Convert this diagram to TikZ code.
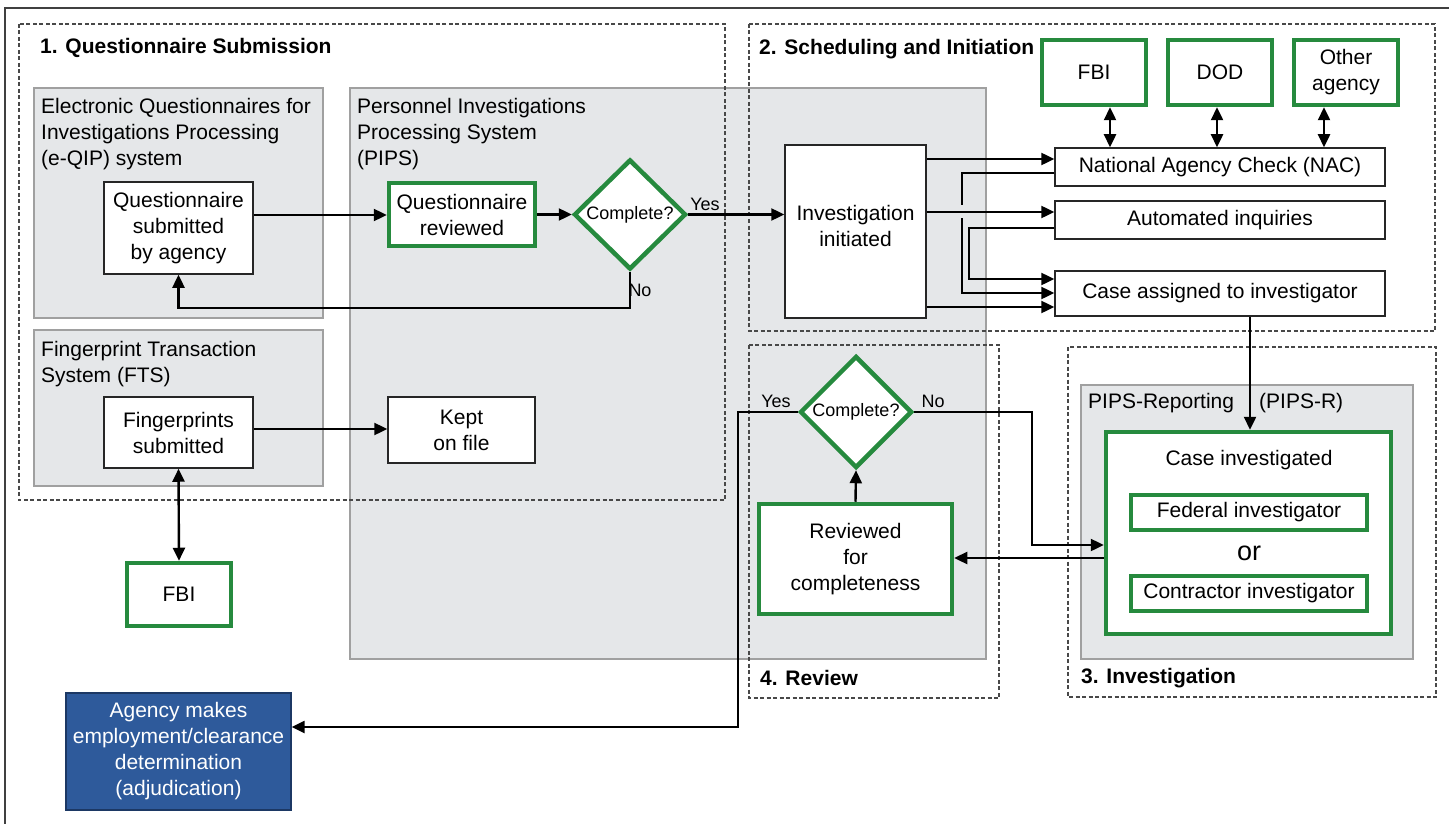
\documentclass[tikz,border=0pt]{standalone}
\usepackage{fontspec}
\setmainfont{Liberation Sans}
\usetikzlibrary{arrows.meta,shapes.geometric}
\definecolor{grn}{RGB}{38,138,62}
\definecolor{gfill}{RGB}{229,231,233}
\definecolor{gline}{RGB}{160,160,160}
\definecolor{dline}{RGB}{72,72,72}
\definecolor{bfill}{RGB}{46,90,155}
\definecolor{bline}{RGB}{28,56,100}
\newcommand\myfs{\fontsize{21}{26}\selectfont}
\newcommand\mysm{\fontsize{18}{22}\selectfont}
\begin{document}
\begin{tikzpicture}[x=1pt,y=-1pt,
  every node/.style={font=\myfs, inner sep=0pt, align=center},
  plainbox/.style={draw=black!85, line width=1.5pt, fill=white},
  grnbox/.style={draw=grn, line width=4.5pt, fill=white},
  graybox/.style={draw=gline, line width=1.3pt, fill=gfill},
  section/.style={draw=dline, line width=2.2pt, dash pattern=on 4pt off 2.5pt},
  decision/.style={diamond, aspect=1, draw=grn, line width=4.5pt, fill=white, font=\mysm},
  conn/.style={line width=2.4pt},
  arr/.style={conn, -{Triangle[length=13pt,width=12pt]}},
  darr/.style={conn, {Triangle[length=13pt,width=12pt]}-{Triangle[length=13pt,width=12pt]}},
  title/.style={font=\myfs\bfseries, anchor=west},
  lbl/.style={align=left, anchor=north west}
]
\useasboundingbox (0,0) rectangle (1449,824);
% frame
\draw[line width=2pt, black!75] (5,824) -- (5,8) -- (1449,8);

% gray system boxes
\draw[graybox] (34,88) rectangle (323,318);
\draw[graybox] (34,330) rectangle (323,486);
\draw[graybox] (350,88) rectangle (986,659);
\draw[graybox] (1081,385) rectangle (1413,659);

% dashed sections
\draw[section] (19,24) rectangle (725,500);
\draw[section] (749,24) rectangle (1435,331);
\draw[section] (749,345) rectangle (999,698);
\draw[section] (1068,347) rectangle (1436,697);

% titles
\node[title] (t1) at (40,48) {1. Questionnaire Submission};
\node[title] (t2) at (759,49) {2. Scheduling and Initiation};
\node[title] (t4) at (760,678) {4. Review};
\node[title] (t3) at (1081,678) {3. Investigation};

% system labels
\node[lbl] (eqip) at (41,98) {Electronic Questionnaires for\\Investigations Processing\\(e-QIP) system};
\node[lbl] (pips) at (357,98) {Personnel Investigations\\Processing System\\(PIPS)};
\node[lbl] (fts) at (41,341) {Fingerprint Transaction\\System (FTS)};
\node[anchor=west] (pipsr1) at (1088,403) {PIPS-Reporting};
\node[anchor=west] (pipsr2) at (1259,403) {(PIPS-R)};

% section 1 nodes
\node[plainbox, minimum width=149, minimum height=92] (qsub) at (178.5,228) {Questionnaire\\submitted\\by agency};
\node[grnbox, minimum width=146, minimum height=63] (qrev) at (462,214.5) {Questionnaire\\reviewed};
\node[decision, minimum width=112, minimum height=110] (dec1) at (630,214.5) {Complete?};
\node[font=\mysm] (yes1) at (705,204) {Yes};
\node[font=\mysm] (no1) at (640,290) {No};
\node[plainbox, minimum width=149, minimum height=71] (fp) at (178.5,432.5) {Fingerprints\\submitted};
\node[plainbox, minimum width=147, minimum height=66] (kept) at (461.5,430) {Kept\\on file};
\node[grnbox, minimum width=104, minimum height=63] (fbi1) at (179,594.5) {FBI};
\node[draw=bline, line width=1.4pt, fill=bfill, text=white, minimum width=225, minimum height=117] (agency) at (178.5,751.5) {Agency makes\\employment/clearance\\determination\\(adjudication)};

% section 2 nodes
\node[plainbox, minimum width=141, minimum height=173] (inv) at (855.5,231.5) {};
\node (invlbl) at (855.5,225.5) {Investigation\\initiated};
\node[grnbox, minimum width=104, minimum height=65] (fbi2) at (1094,72.5) {FBI};
\node[grnbox, minimum width=104, minimum height=65] (dod) at (1220,72.5) {DOD};
\node[grnbox, minimum width=104, minimum height=65] (other) at (1346,72.5) {Other\\agency};
\node[plainbox, minimum width=330, minimum height=38] (nac) at (1220,167) {National Agency Check (NAC)};
\node[plainbox, minimum width=330, minimum height=38] (auto) at (1220,220) {Automated inquiries};
\node[plainbox, minimum width=330, minimum height=45] (case) at (1220,293.5) {Case assigned to investigator};

% section 3 nodes
\node[grnbox, minimum width=285, minimum height=202] (caseinv) at (1248.5,533) {};
\node (cilbl) at (1249,460) {Case investigated};
\node[grnbox, minimum width=236, minimum height=35] (fed) at (1249,512.5) {Federal investigator};
\node[font=\fontsize{27}{30}\selectfont] (or) at (1249,553) {or};
\node[grnbox, minimum width=236, minimum height=35] (con) at (1249,593.5) {Contractor investigator};

% section 4 nodes
\node[decision, minimum width=112, minimum height=112] (dec2) at (856,412) {Complete?};
\node[font=\mysm] (yes2) at (776,401) {Yes};
\node[font=\mysm] (no2) at (933,401) {No};
\node[grnbox, minimum width=193, minimum height=110] (rev) at (855.5,559) {Reviewed\\for\\completeness};

% connectors section 1
\draw[arr] (qsub.east |- 0,215) -- (qrev.west |- 0,215);
\draw[arr] (qrev.east) -- (dec1.west);
\draw[arr] (dec1.east) -- (inv.west |- dec1.east);
\draw[arr] (dec1.south) -- (dec1.south |- 0,308) -| (qsub.south);
\draw[arr] (fp.east |- 0,429) -- (kept.west |- 0,429);
\draw[darr] (fp.south) -- (fbi1.north);

% connectors section 2
\draw[arr] (inv.east |- 0,159) -- (nac.west |- 0,159);
\draw[arr] (inv.east |- 0,212) -- (auto.west |- 0,212);
\draw[arr] (inv.east |- 0,307) -- (case.west |- 0,307);
\coordinate (j1) at (962,205);
\coordinate (j2) at (962,218);
\draw[conn] (nac.west |- 0,173) -| (j1);
\draw[arr] (j2) |- (case.west |- 0,293);
\coordinate (k1) at (969,228);
\draw[arr] (auto.west |- k1) -- (k1) |- (case.west |- 0,279);
\draw[darr] (fbi2.south -| 1110,0) -- (nac.north -| 1110,0);
\draw[darr] (dod.south -| 1217,0) -- (nac.north -| 1217,0);
\draw[darr] (other.south -| 1324,0) -- (nac.north -| 1324,0);
\draw[arr] (case.south -| 1250,0) -- (caseinv.north -| 1250,0);

% connectors section 3/4
\draw[arr] (rev.north) -- (dec2.south);
\coordinate (n1) at (1032,545);
\draw[arr] (dec2.east) -| (n1) -- (caseinv.west |- n1);
\draw[arr] (caseinv.west |- 0,558) -- (rev.east |- 0,558);
\coordinate (y1) at (738,727);
\draw[arr] (dec2.west) -| (y1) -- (agency.east |- y1);
\end{tikzpicture}
\end{document}
